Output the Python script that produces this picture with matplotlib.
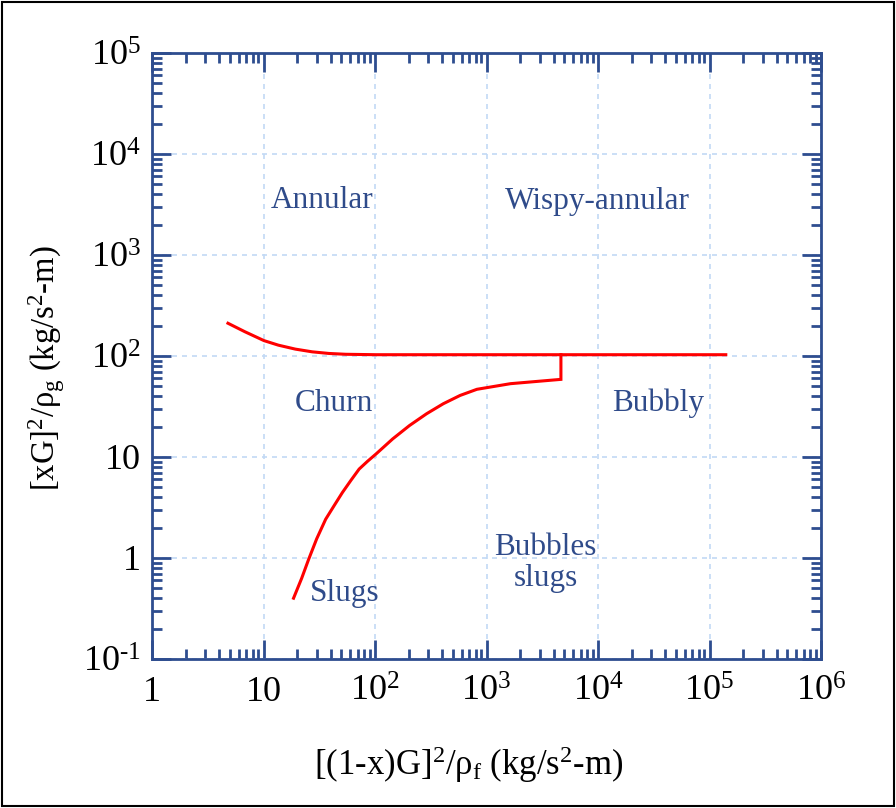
import matplotlib
matplotlib.use("Agg")
import matplotlib.pyplot as plt
from matplotlib.patches import Rectangle
from matplotlib.ticker import FixedLocator, FixedFormatter, LogLocator, NullFormatter

plt.rcParams['font.family'] = ['Liberation Serif', 'DejaVu Serif']
plt.rcParams['mathtext.fontset'] = 'custom'
plt.rcParams['mathtext.rm'] = 'Liberation Serif'
plt.rcParams['mathtext.it'] = 'Liberation Serif:italic'

# boundary curves
upper_x = [4.8, 6.8, 10.1, 13.6, 19.3, 27.3, 38.5, 54.7, 102, 1.4e5]
upper_y = [211, 174, 142, 128, 117, 110, 106, 104, 103, 103]

lower_x = [18.6, 22, 25.4, 30, 36.1, 43, 51.0, 61, 72.1, 86, 102, 144, 204, 290, 410, 580, 820, 1640, 4650, 4650]
lower_y = [0.40, 0.63, 0.97, 1.55, 2.42, 3.3, 4.45, 5.9, 7.6, 9.1, 10.7, 15.1, 20.5, 26.8, 33.7, 40.7, 46.8, 53.2, 58.7, 103]

# regime labels
regime_names = ['Annular', 'Wispy-annular', 'Churn', 'Bubbly', 'Bubbles\nslugs', 'Slugs']
regime_x = [33.5, 9800, 43, 34600, 3400, 54]
regime_y = [3500, 3400, 34, 34, 0.9, 0.45]

x_ticks = [1, 10, 1e2, 1e3, 1e4, 1e5, 1e6]
x_tick_labels = ['1', '10', r'$10^2$', r'$10^3$', r'$10^4$', r'$10^5$', r'$10^6$']
y_ticks = [0.1, 1, 10, 1e2, 1e3, 1e4, 1e5]
y_tick_labels = [r'$10^{\text{-}1}$', '1', '10', r'$10^2$', r'$10^3$', r'$10^4$', r'$10^5$']

axis_blue = '#2e4d8f'
text_blue = '#2f4b8a'

fig = plt.figure(figsize=(8.96, 8.08), dpi=100)
ax = fig.add_axes([152 / 896, 1 - 659 / 808, 669 / 896, 606 / 808])

ax.set_xscale('log')
ax.set_yscale('log')
ax.set_xlim(1, 1e6)
ax.set_ylim(0.1, 1e5)

ax.plot(upper_x, upper_y, color='red', lw=2.2, solid_joinstyle='round')
ax.plot(lower_x, lower_y, color='red', lw=2.2, solid_joinstyle='miter')

for name, xx, yy in zip(regime_names, regime_x, regime_y):
    ax.text(xx, yy, name, color=text_blue, fontsize=22.5, ha='center', va='center',
            linespacing=1.1)

# ticks and spines
ax.xaxis.set_major_locator(FixedLocator(x_ticks))
ax.xaxis.set_major_formatter(FixedFormatter(x_tick_labels))
ax.yaxis.set_major_locator(FixedLocator(y_ticks))
ax.yaxis.set_major_formatter(FixedFormatter(y_tick_labels))
for axis in (ax.xaxis, ax.yaxis):
    axis.set_minor_locator(LogLocator(base=10, subs=range(2, 10), numticks=20))
    axis.set_minor_formatter(NullFormatter())

ax.tick_params(which='both', direction='in', top=True, right=True, color=axis_blue,
               labelsize=26, labelcolor='black')
ax.tick_params(which='major', length=14, width=2)
ax.tick_params(which='minor', length=7, width=2)
ax.tick_params(axis='x', pad=12)
ax.tick_params(axis='y', pad=8)
for s in ax.spines.values():
    s.set_color(axis_blue)
    s.set_linewidth(2)

ax.grid(True, which='major', color='#c2d9f5', ls=(0, (3, 3)), lw=1.2)
ax.set_axisbelow(True)

fig.text(469 / 896, 1 - 765 / 808, r'[(1-x)G]$^2$/ρ$_\mathrm{f}$ (kg/s$^2$-m)',
         ha='center', va='center', fontsize=25)
fig.text(47 / 896, 1 - 368 / 808, r'[xG]$^2$/ρ$_\mathrm{g}$ (kg/s$^2$-m)',
         ha='center', va='center', fontsize=23.5, rotation=90)

# outer frame
fig.add_artist(Rectangle((0.002, 0.002), 0.996, 0.996, transform=fig.transFigure,
                         fill=False, edgecolor='black', lw=1.5))

fig.savefig('out.png', dpi=100)
